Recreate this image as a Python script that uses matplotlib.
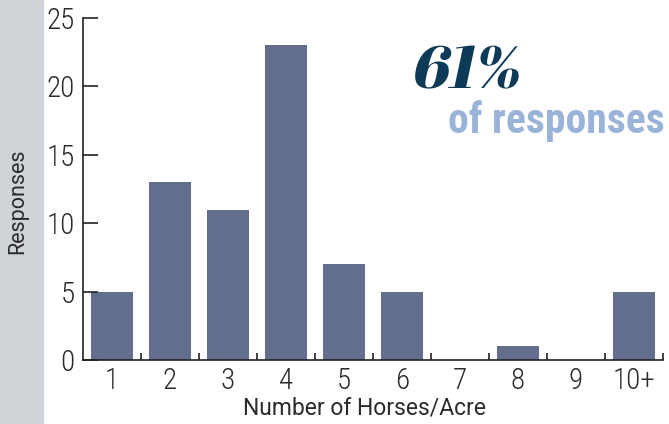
import matplotlib.pyplot as plt
from matplotlib.patches import Rectangle, PathPatch
from matplotlib.textpath import TextPath
from matplotlib.font_manager import FontProperties
from matplotlib.transforms import Affine2D, IdentityTransform

categories = ["1", "2", "3", "4", "5", "6", "7", "8", "9", "10+"]
responses = [5, 13, 11, 23, 7, 5, 0, 1, 0, 5]
y_ticks = [0, 5, 10, 15, 20, 25]

BAR_COLOR = "#626e8b"
NAVY = "#0d3a56"
LIGHT_BLUE = "#9ab3d8"
STRIP = "#d0d4d8"
TEXT = "#2b2b2b"

W, H = 669, 424
fig = plt.figure(figsize=(W / 100, H / 100), dpi=100)
fig.patches.append(Rectangle((0, 0), 43 / W, 1, transform=fig.transFigure,
                             color=STRIP, zorder=0))

ax = fig.add_axes([83 / W, 64 / H, 580 / W, 342 / H])
x = list(range(len(categories)))
ax.bar(x, responses, width=0.72, color=BAR_COLOR, zorder=1)

ax.set_xlim(-0.5, len(categories) - 0.5)
ax.set_ylim(0, 25)
ax.set_yticks(y_ticks)
ax.set_yticklabels([str(v) for v in y_ticks], fontfamily="Roboto Condensed",
                   fontweight="light", fontsize=21, color=TEXT)
ax.set_xticks(x)
ax.set_xticklabels(categories, fontfamily="Roboto Condensed",
                   fontweight="light", fontsize=21, color=TEXT)
ax.set_xticks([i + 0.5 for i in x], minor=True)

ax.tick_params(axis="y", direction="in", length=11, width=1.2, color="#222222", pad=6)
ax.tick_params(axis="x", which="major", length=0, pad=5)
ax.tick_params(axis="x", which="minor", direction="in", length=5, width=1.2, color="#222222")

for s in ["top", "right"]:
    ax.spines[s].set_visible(False)
for s in ["left", "bottom"]:
    ax.spines[s].set_linewidth(1.2)
    ax.spines[s].set_color("#222222")

fig.text(365 / W, 1 - 415 / H, "Number of Horses/Acre", ha="center", va="baseline",
         fontfamily="Roboto", fontsize=16.5, color=TEXT)
fig.text(18 / W, 1 - 201 / H, "Responses", rotation=90, ha="center", va="center",
         fontfamily="Roboto", fontsize=15.5, color=TEXT)

# "61%" in a heavy didone, slanted to look italic
tp = TextPath((0, 0), "61%", size=60, prop=FontProperties(family="Abril Fatface"))
ext = tp.get_extents()
scale = 43 / ext.height
trans = (Affine2D().translate(-ext.x0, 0).scale(scale).skew_deg(12, 0)
         .translate(412, H - 88))
fig.patches.append(PathPatch(trans.transform_path(tp), transform=IdentityTransform(),
                             facecolor=NAVY, edgecolor="none"))

fig.text(665 / W, 1 - 133 / H, "of responses", ha="right", va="baseline",
         fontfamily="Roboto Condensed", fontweight="bold", fontsize=30, color=LIGHT_BLUE)

fig.savefig("out.png", dpi=100)
